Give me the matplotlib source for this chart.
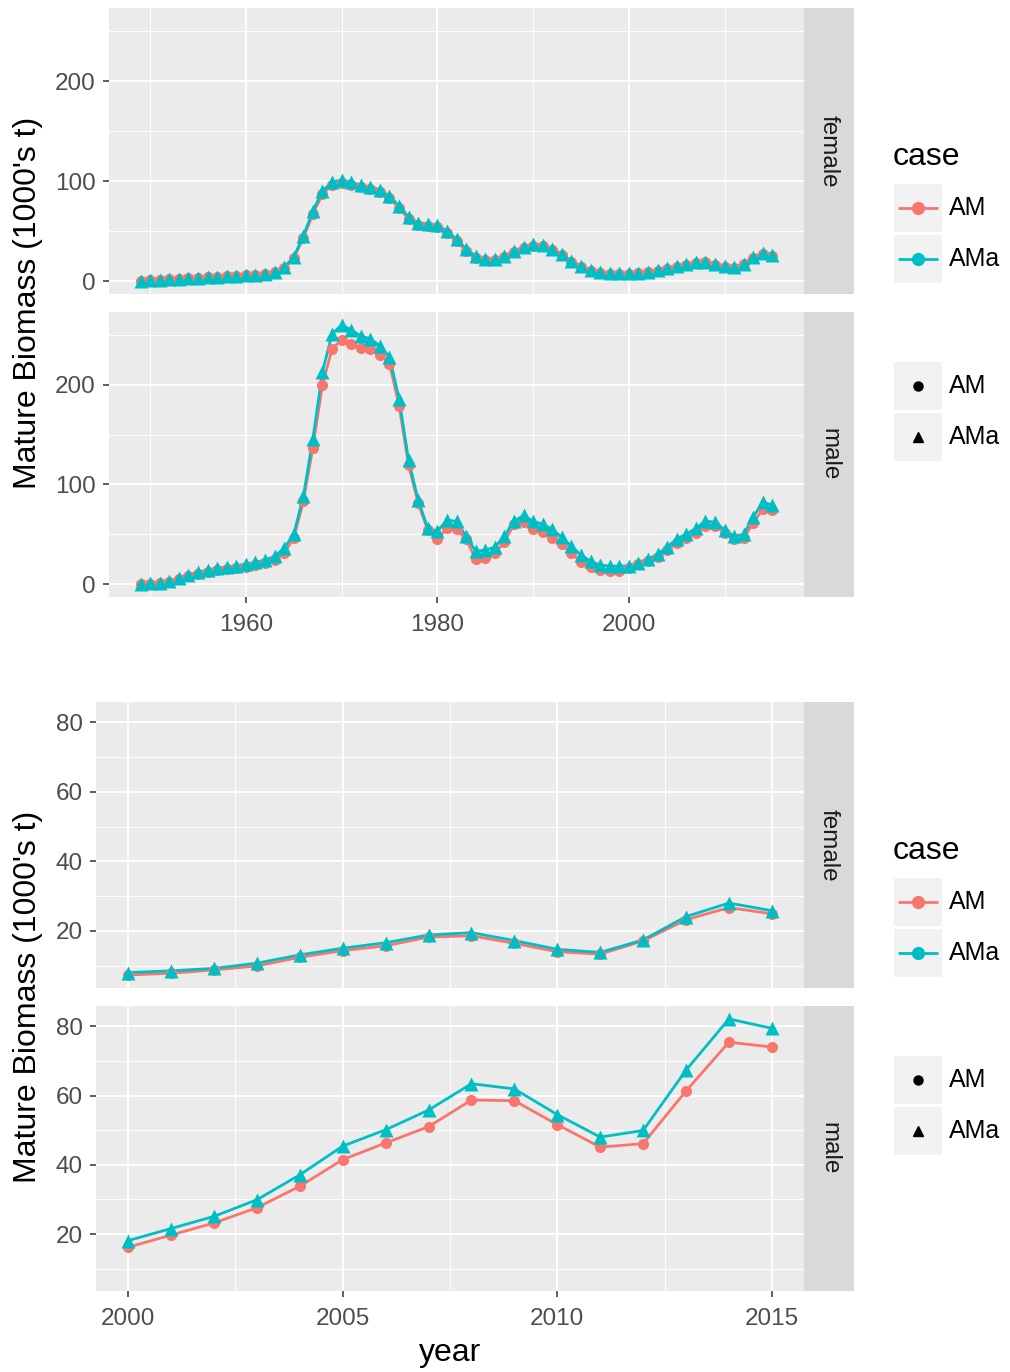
import numpy as np
import matplotlib
matplotlib.use("Agg")
import matplotlib.pyplot as plt
from matplotlib.patches import Rectangle

plt.rcParams['font.family'] = ['Liberation Sans', 'DejaVu Sans']

# ---- data: mature biomass (1000's t) by sex and assessment case ----
years = np.arange(1949, 2016)

female_am = [0.3, 0.8, 1.2, 1.7, 2.2, 2.7, 3.2, 3.7, 4.2, 4.7,
             5.2, 5.7, 6.2, 7.2, 9.0, 13, 23, 43, 67, 87,
             96, 98, 96, 94, 92, 89, 83, 73, 62, 56,
             55, 54, 48, 40, 30, 23, 21, 21, 24, 29,
             33, 35, 35, 31, 26, 19, 14, 10, 8.5, 7.5,
             7.4,
             7.3, 7.8, 8.75, 9.9, 12.4, 14.3, 15.7, 18.2, 18.6, 16.4,
             14.0, 13.3, 17.1, 23.2, 26.7, 24.9]
female_ama = [0.5, 1.0, 1.5, 2.0, 2.5, 3.0, 3.5, 4.0, 4.5, 5.0,
              5.5, 6.0, 6.5, 7.5, 9.5, 14, 24, 45, 70, 90,
              99, 101, 99, 96, 94, 91, 85, 75, 64, 58,
              57, 56, 50, 42, 32, 25, 22, 22, 25, 30,
              34, 37, 36, 32, 27, 20, 15, 11, 9, 8,
              8,
              8.0, 8.5, 9.2, 10.7, 13.1, 15.0, 16.6, 18.8, 19.5, 17.2,
              14.7, 13.8, 17.4, 24.1, 28.0, 25.8]
male_am = [0, 0.5, 1, 2, 5, 8, 10, 12, 14, 15.5,
           16.5, 17.5, 19, 21, 24, 31, 46, 83, 137, 200,
           236, 245, 241, 237, 236, 230, 221, 179, 119, 81,
           54, 45, 56, 55, 45, 25, 26, 31, 42, 60,
           62, 55, 52, 46, 40, 31, 22, 17, 14, 13,
           13,
           16.2, 19.7, 23.2, 27.6, 33.8, 41.5, 46.3, 51.0, 58.7, 58.5,
           51.6, 45.1, 46.1, 61.3, 75.4, 74.0]
male_ama = [0.5, 1, 1.5, 3, 6, 9, 12, 14, 16, 17,
            18.5, 20, 22, 24, 28, 36, 50, 88, 146, 213,
            251, 260, 255, 249, 246, 239, 228, 186, 124, 84,
            56, 53, 64, 63, 48, 33, 34, 37, 48, 63,
            69, 63, 60, 55, 47, 38, 29, 23, 19, 18,
            18,
            18.1, 21.6, 25.1, 29.9, 37.1, 45.4, 50.1, 55.8, 63.4, 61.9,
            54.5, 48.0, 49.9, 67.3, 82.1, 79.4]

sexes = ["female", "male"]
cases = ["AM", "AMa"]
series = {
    ("female", "AM"): np.array(female_am, dtype=float),
    ("female", "AMa"): np.array(female_ama, dtype=float),
    ("male", "AM"): np.array(male_am, dtype=float),
    ("male", "AMa"): np.array(male_ama, dtype=float),
}
zoom_start = 2000

# ---- styling ----
case_colors = {"AM": "#F8766D", "AMa": "#00BFC4"}
case_markers = {"AM": "o", "AMa": "^"}
marker_sizes = {"AM": 8.0, "AMa": 9.5}
PANEL_BG = "#EBEBEB"
STRIP_BG = "#D9D9D9"
KEY_BG = "#F2F2F2"
TICK_SIZE = 17.5
TITLE_SIZE = 23

W, H = 1010, 1372
fig = plt.figure(figsize=(W / 100, H / 100), dpi=100)


def box(l, t, r, b):
    return [l / W, 1 - b / H, (r - l) / W, (b - t) / H]


# overlay axes in pixel units for legend decorations
overlay = fig.add_axes([0, 0, 1, 1], zorder=5)
overlay.set_xlim(0, W)
overlay.set_ylim(H, 0)
overlay.axis("off")
overlay.patch.set_alpha(0)


def draw_legend(dy):
    overlay.text(893, 157 + dy, "case", fontsize=TITLE_SIZE, va="center", ha="left")
    for i, case in enumerate(cases):
        yc = 208 + 51 * i + dy
        overlay.add_patch(Rectangle((894, yc - 24), 48, 48, facecolor=KEY_BG, edgecolor="none"))
        overlay.plot([898, 938], [yc, yc], color=case_colors[case], lw=2.0, solid_capstyle="butt")
        overlay.plot([918], [yc], marker="o", ms=8.5, color=case_colors[case], ls="none")
        overlay.text(949, yc, case, fontsize=18, va="center", ha="left")
    for i, case in enumerate(cases):
        yc = 386 + 51 * i + dy
        overlay.add_patch(Rectangle((894, yc - 24), 48, 48, facecolor=KEY_BG, edgecolor="none"))
        overlay.plot([918], [yc], marker=case_markers[case], ms=6.5 if case == "AM" else 7.5,
                     color="black", ls="none")
        overlay.text(949, yc, case, fontsize=18, va="center", ha="left")


def draw_chart(dy, left, mask, xmajor, xminor, ymajor, yminor, panel_rows, show_xtitle):
    x = years[mask]
    vals = np.concatenate([series[k][mask] for k in series])
    lo, hi = vals.min(), vals.max()
    ypad = 0.05 * (hi - lo)
    xpad = 0.05 * (x.max() - x.min())
    for sex, (top, bot) in zip(sexes, panel_rows):
        ax = fig.add_axes(box(left, top + dy, 804, bot + dy))
        ax.set_facecolor(PANEL_BG)
        for sp in ax.spines.values():
            sp.set_visible(False)
        for case in cases:
            ax.plot(x, series[(sex, case)][mask], color=case_colors[case], lw=2.0, zorder=3)
        for case in cases:
            ax.plot(x, series[(sex, case)][mask], ls="none", marker=case_markers[case],
                    ms=marker_sizes[case], color=case_colors[case], mec="none", zorder=4)
        ax.set_xlim(x.min() - xpad, x.max() + xpad)
        ax.set_ylim(lo - ypad, hi + ypad)
        ax.set_xticks(xmajor)
        ax.set_xticks(xminor, minor=True)
        ax.set_yticks(ymajor)
        ax.set_yticks(yminor, minor=True)
        ax.grid(which="major", color="white", lw=1.3)
        ax.grid(which="minor", color="white", lw=0.65)
        ax.set_axisbelow(True)
        ax.tick_params(which="major", length=4.5, width=1.1, color="#333333",
                       labelcolor="#4D4D4D", labelsize=TICK_SIZE)
        ax.tick_params(axis="x", which="major", pad=7.5)
        ax.tick_params(axis="y", which="major", pad=5)
        ax.tick_params(which="minor", length=0)
        if sex == "female":
            ax.tick_params(axis="x", which="both", length=0, labelbottom=False)
        else:
            ax.set_xticklabels([str(int(v)) for v in xmajor])
        ax.set_yticklabels([str(int(v)) for v in ymajor])
        # facet strip
        sax = fig.add_axes(box(804, top + dy, 854, bot + dy))
        sax.set_facecolor(STRIP_BG)
        sax.set_xticks([])
        sax.set_yticks([])
        for sp in sax.spines.values():
            sp.set_visible(False)
        sax.text(0.5, 0.5, sex, rotation=-90, ha="center", va="center",
                 fontsize=TICK_SIZE, color="#1A1A1A", transform=sax.transAxes)
    ycenter = (panel_rows[0][0] + panel_rows[1][1]) / 2 + dy
    fig.text(28 / W, 1 - ycenter / H, "Mature Biomass (1000's t)", rotation=90,
             ha="center", va="center", fontsize=TITLE_SIZE)
    if show_xtitle:
        fig.text(((left + 804) / 2) / W, 1 - 1353 / H, "year",
                 ha="center", va="center", fontsize=TITLE_SIZE)
    draw_legend(dy)


rows = [(8, 294), (312, 597)]

# full time series
draw_chart(0, 109, years >= years.min(),
           [1960, 1980, 2000], [1950, 1970, 1990, 2010],
           [0, 100, 200], [50, 150, 250], rows, False)

# recent years
draw_chart(694, 96, years >= zoom_start,
           [2000, 2005, 2010, 2015], [2002.5, 2007.5, 2012.5],
           [20, 40, 60, 80], [10, 30, 50, 70], rows, True)

fig.savefig("out.png", dpi=100, facecolor="white")
